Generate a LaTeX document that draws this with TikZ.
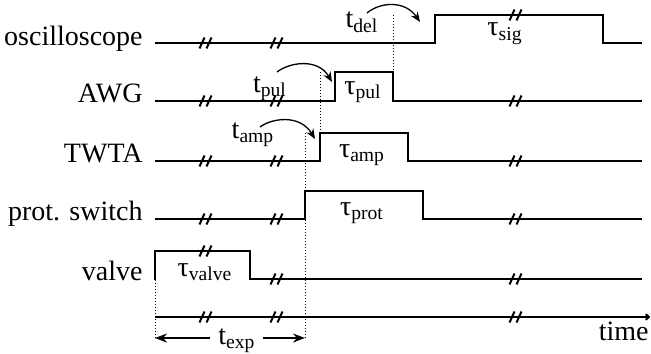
\documentclass[tikz,border=0pt]{standalone}
\usepackage{fontspec}
\setmainfont{Liberation Serif}
\usetikzlibrary{arrows.meta}
\begin{document}
\begin{tikzpicture}[x=0.5pt,y=-0.5pt,
  sig/.style={line width=1pt, line join=miter},
  brkmark/.style={line width=1pt},
  guide/.style={line width=0.5pt, dash pattern=on 0.5pt off 1pt},
  curvarr/.style={line width=0.65pt, -{Stealth[length=5pt,width=4pt]}},
  exparr/.style={line width=0.8pt, -{Stealth[length=6pt,width=4.5pt]}},
  lbl/.style={anchor=base east, inner sep=0pt, font=\fontsize{14}{17}\selectfont},
  txt/.style={anchor=base, inner sep=0pt, font=\fontsize{14}{17}\selectfont}]
\useasboundingbox (0,0) rectangle (651,353);

% row labels
\node[lbl] (lOsc)  at (143,46)  {oscilloscope};
\node[lbl] (lAWG)  at (143,102) {AWG};
\node[lbl] (lTWTA) at (143,162) {TWTA};
\node[lbl] (lProt) at (143,220) {prot. switch};
\node[lbl] (lValve) at (143,280) {valve};

% signals
\draw[sig] (155,43) -- (435,43) -- (435,15) -- (603,15) -- (603,43) -- (642,43);
\draw[sig] (155,101) -- (335,101) -- (335,72) -- (393,72) -- (393,101) -- (642,101);
\draw[sig] (155,161) -- (320,161) -- (320,133) -- (408,133) -- (408,161) -- (642,161);
\draw[sig] (155,219) -- (305,219) -- (305,191) -- (423,191) -- (423,219) -- (642,219);
\draw[sig] (155,280) -- (155,251) -- (250,251) -- (250,279) -- (642,279);
\draw[line width=1pt, -{To[length=2.5pt,width=3.5pt]}] (155,317) -- (650,317);

% break marks
\foreach \x/\y in {206/43,277/43,516/15,
                   206/101,277/101,516/101,
                   206/161,277/161,516/161,
                   206/219,277/219,516/219,
                   206/251,277/279,516/279,
                   206/317,277/317,516/317}
  \draw[brkmark] ({\x-6.5},{\y+5.5}) -- ({\x-1.5},{\y-5.5}) ({\x+0.5},{\y+5.5}) -- ({\x+5.5},{\y-5.5});

% dotted guides
\draw[guide] (393,15) -- (393,101);
\draw[guide] (320,72) -- (320,161);
\draw[guide] (305,133) -- (305,340);
\draw[guide] (155,280) -- (155,340);

% delay labels and curved arrows
\node[txt] (tdel) at (362,28) {t\textsubscript{del}};
\node[txt] (tpul) at (270,92) {t\textsubscript{pul}};
\node[txt] (tamp) at (253,138) {t\textsubscript{amp}};
\coordinate (delS) at (367,13); \coordinate (delE) at (420,22);
\coordinate (pulS) at (277,72); \coordinate (pulE) at (332,82);
\coordinate (ampS) at (260,127); \coordinate (ampE) at (315,139);
\draw[curvarr] (delS) .. controls (380,2) and (405,0) .. (delE);
\draw[curvarr] (pulS) .. controls (290,62) and (318,58) .. (pulE);
\draw[curvarr] (ampS) .. controls (272,118) and (300,114) .. (ampE);

% durations
\node[txt] (tsig) at (505,36) {τ\textsubscript{sig}};
\node[txt] (tpulw) at (363,94) {τ\textsubscript{pul}};
\node[txt] (tampw) at (362,157) {τ\textsubscript{amp}};
\node[txt] (tprot) at (362,215) {τ\textsubscript{prot}};
\node[txt] (tvalve) at (205,276) {τ\textsubscript{valve}};

% experiment time
\node[txt] (texp) at (237,344) {t\textsubscript{exp}};
\coordinate (expL) at (155,338); \coordinate (expR) at (305,338);
\coordinate (expLi) at (210,338); \coordinate (expRi) at (263,338);
\draw[exparr] (expLi) -- (expL);
\draw[exparr] (expRi) -- (expR);

\node[anchor=base east, inner sep=0pt, font=\fontsize{14}{17}\selectfont] (ltime) at (649,340) {time};
\end{tikzpicture}
\end{document}
